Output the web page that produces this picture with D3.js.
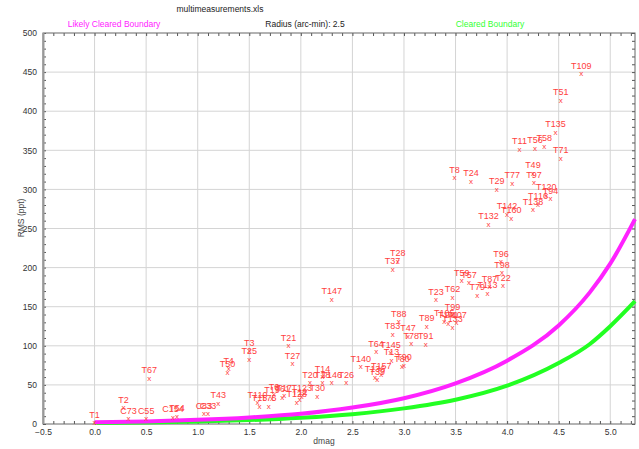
<!DOCTYPE html>
<html>
<head>
<meta charset="utf-8">
<script src="https://cdn.jsdelivr.net/npm/d3@7"></script>
<style>
  body { margin: 0; background: #fff; }
  text { font-family: "Liberation Sans", Arial, sans-serif; }
</style>
</head>
<body>
<div id="app"></div>
<script>
// point labels, dmag and RMS (ppt)
const pointNames = ["T1","T2","C73","C55","C154","T54","C83","C33","T43","T67",
  "T4","T50","T3","T25","T21","T27","T20","T14","T18","T146","T26","T30",
  "T110","T15","T75","T19","T6","T61","T17","T128","T12","T123",
  "T147","T140","T64","T145","T13","T136","T157","T39","T80","T90",
  "T28","T37","T88","T83","T47","T78","T91","T89","T23","T62","T59","T57",
  "T79","T113","T87","T96","T98","T22","T99","T107","T133","T105","T141",
  "T109","T51","T135","T11","T56","T58","T71","T8","T24","T29","T77","T49",
  "T97","T120","T94","T116","T138","T132","T142","T160"];
const pointDmag = [0.00,0.28,0.33,0.50,0.76,0.80,1.06,1.10,1.20,0.53,
  1.30,1.29,1.50,1.50,1.88,1.92,2.09,2.21,2.21,2.30,2.44,2.16,
  1.58,1.60,1.69,1.72,1.74,1.82,1.84,1.96,1.99,2.01,
  2.30,2.58,2.73,2.87,2.88,2.72,2.78,2.74,2.98,3.00,
  2.94,2.89,2.95,2.89,3.04,3.07,3.21,3.22,3.31,3.47,3.56,3.63,
  3.71,3.81,3.83,3.94,3.95,3.96,3.47,3.51,3.47,3.39,3.43,
  4.72,4.52,4.47,4.12,4.27,4.36,4.52,3.49,3.65,3.90,4.05,4.25,
  4.26,4.38,4.42,4.30,4.25,3.82,4.00,4.04];
const pointRms = [1.3,20.5,6.4,6.4,8.6,10.2,12.8,12.8,26.5,58.2,
  70.7,66.1,93.7,83.1,100.1,77.1,52.8,60.7,52.8,52.8,52.8,35.2,
  26.9,23.0,23.0,33.2,37.7,34.5,36.4,28.1,30.7,35.2,
  159.5,73.3,92.5,91.4,81.8,60.1,63.3,56.9,73.3,75.1,
  208.4,197.8,130.8,114.7,112.5,102.7,101.9,125.3,159.2,162.0,183.2,180.7,
  164.6,167.1,175.6,207.2,193.5,176.5,139.4,129.5,123.7,131.7,128.8,
  447.6,413.9,373.0,351.3,352.9,355.1,339.8,314.6,310.4,300.1,307.8,320.6,
  308.6,292.5,288.1,281.3,274.0,255.4,268.2,262.8];

// boundary curves
const boundaryDmag = [0.0,0.5,1.0,1.5,2.0,2.5,3.0,3.5,4.0,4.5,4.8,5.0,5.24];
const likelyRms   = [2.1,3.3,5.3,8.4,13,21,33,52,81,126,168,205,262];
const clearedRms  = [1.3,2.0,3.2,5.0,8,12.6,20,31,49,78,102,125,157];

const xTicks = [-0.5,0,0.5,1,1.5,2,2.5,3,3.5,4,4.5,5];
const yTicks = [0,50,100,150,200,250,300,350,400,450,500];

const W = 639, H = 449;
const x = d3.scaleLinear([-0.5, 5.24], [43, 635]);
const y = d3.scaleLinear([0, 500], [424, 33]);

const svg = d3.select("#app").append("svg")
  .attr("width", W).attr("height", H);

// grid
svg.append("g").selectAll("line").data(xTicks.slice(1)).join("line")
  .attr("x1", d => x(d)).attr("x2", d => x(d))
  .attr("y1", y(0)).attr("y2", y(500))
  .attr("stroke", "#d4d4d4");
svg.append("g").selectAll("line").data(yTicks.slice(1, -1)).join("line")
  .attr("x1", x(-0.5)).attr("x2", x(5.24))
  .attr("y1", d => y(d)).attr("y2", d => y(d))
  .attr("stroke", "#d4d4d4");

// minor ticks on all sides, pointing in
const xMinor = d3.range(-5, 53).map(i => i / 10);
const yMinor = d3.range(0, 51).map(i => i * 10);
const noLabel = () => "";
svg.append("g").attr("transform", `translate(0,${y(0)})`)
  .call(d3.axisBottom(x).tickValues(xMinor).tickSize(-3).tickFormat(noLabel));
svg.append("g").attr("transform", `translate(0,${y(500)})`)
  .call(d3.axisTop(x).tickValues(xMinor).tickSize(-3).tickFormat(noLabel));
svg.append("g").attr("transform", `translate(${x(-0.5)},0)`)
  .call(d3.axisLeft(y).tickValues(yMinor).tickSize(-3).tickFormat(noLabel));
svg.append("g").attr("transform", `translate(${x(5.24)},0)`)
  .call(d3.axisRight(y).tickValues(yMinor).tickSize(-3).tickFormat(noLabel));
svg.selectAll(".domain").remove();
svg.selectAll(".tick line").attr("stroke", "#555");

// tick labels
const xAxis = svg.append("g").attr("transform", `translate(0,${y(0) + 2})`)
  .call(d3.axisBottom(x).tickValues(xTicks).tickSize(0).tickFormat(d3.format(".1f")));
const yAxis = svg.append("g").attr("transform", `translate(${x(-0.5) - 3},0)`)
  .call(d3.axisLeft(y).tickValues(yTicks).tickSize(0));
[xAxis, yAxis].forEach(a => {
  a.select(".domain").remove();
  a.selectAll("text").attr("font-size", 8.5).attr("fill", "#333")
    .attr("font-family", "'Liberation Sans', Arial, sans-serif");
});

// frame
svg.append("rect")
  .attr("x", x(-0.5)).attr("y", y(500))
  .attr("width", x(5.24) - x(-0.5)).attr("height", y(0) - y(500))
  .attr("fill", "none").attr("stroke", "#666");
svg.append("line")
  .attr("x1", x(-0.5) + 0.5).attr("x2", x(-0.5) + 0.5)
  .attr("y1", y(500)).attr("y2", y(0))
  .attr("stroke", "#999").attr("stroke-width", 2);

// boundary curves
const curveLine = vals => d3.line()
  .x((d, i) => x(boundaryDmag[i]))
  .y(d => y(d))
  .curve(d3.curveMonotoneX)(vals);
svg.append("path").attr("d", curveLine(clearedRms))
  .attr("fill", "none").attr("stroke", "#22ff22").attr("stroke-width", 4);
svg.append("path").attr("d", curveLine(likelyRms))
  .attr("fill", "none").attr("stroke", "#ff22ff").attr("stroke-width", 4);

// points
const points = pointNames.map((n, i) => ({ name: n, dmag: pointDmag[i], rms: pointRms[i] }));
const pg = svg.append("g").attr("fill", "#ff4040")
  .attr("font-family", "'Liberation Sans', Arial, sans-serif");
pg.selectAll("text.mark").data(points).join("text")
  .attr("class", "mark")
  .attr("x", d => x(d.dmag)).attr("y", d => y(d.rms) + 2.5)
  .attr("text-anchor", "middle").attr("font-size", 8)
  .text("x");
pg.selectAll("text.lab").data(points).join("text")
  .attr("class", "lab")
  .attr("x", d => x(d.dmag)).attr("y", d => y(d.rms) - 5)
  .attr("text-anchor", "middle").attr("font-size", 9)
  .text(d => d.name);

// titles
svg.append("text").attr("x", 220).attr("y", 12).attr("text-anchor", "middle")
  .attr("font-size", 8.5).attr("fill", "#222").text("multimeasurements.xls");
svg.append("text").attr("x", 114).attr("y", 27).attr("text-anchor", "middle")
  .attr("font-size", 8.5).attr("fill", "#ff22ff").text("Likely Cleared Boundary");
svg.append("text").attr("x", 305).attr("y", 27).attr("text-anchor", "middle")
  .attr("font-size", 8.5).attr("fill", "#222").text("Radius (arc-min): 2.5");
svg.append("text").attr("x", 490).attr("y", 27).attr("text-anchor", "middle")
  .attr("font-size", 8.5).attr("fill", "#33ff33").text("Cleared Boundary");
svg.append("text").attr("x", 324).attr("y", 444).attr("text-anchor", "middle")
  .attr("font-size", 8.5).attr("fill", "#444").text("dmag");
svg.append("text").attr("transform", "translate(24,218) rotate(-90)")
  .attr("text-anchor", "middle")
  .attr("font-size", 8.5).attr("fill", "#444").text("RMS (ppt)");
</script>
</body>
</html>
